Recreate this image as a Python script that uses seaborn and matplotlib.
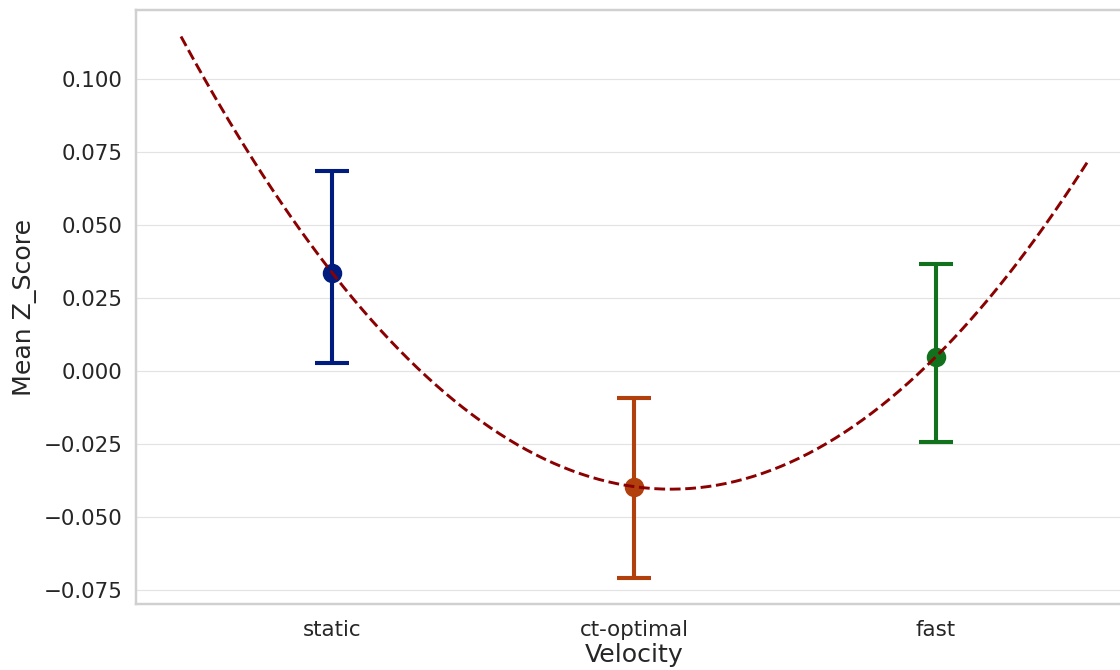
import numpy as np
import pandas as pd
import matplotlib
matplotlib.use('Agg')
import matplotlib.pyplot as plt
import seaborn as sns

velocity = ['static', 'ct-optimal', 'fast']
mean_z = [0.0337, -0.0396, 0.0049]
ci_low = [0.0028, -0.0708, -0.0244]
ci_high = [0.0683, -0.0094, 0.0366]
colors = ['#001c7f', '#b1400d', '#12711c']

sns.set_theme(style='whitegrid', context='notebook',
              rc={'grid.color': '#e3e3e3', 'grid.linewidth': 0.6,
                  'axes.edgecolor': '#d0d0d0', 'xtick.major.pad': 2.0,
                  'ytick.major.pad': 1.0})

df = pd.DataFrame({'Velocity': velocity, 'Mean Z_Score': mean_z})

fig = plt.figure(figsize=(8, 670 / 140), dpi=140)
ax = fig.add_axes([136 / 1120, 1 - 604 / 670, (1132 - 136) / 1120, 594 / 670])

sns.pointplot(data=df, x='Velocity', y='Mean Z_Score', hue='Velocity',
              palette=colors, errorbar=None, markersize=8, linestyle='none',
              legend=False, ax=ax)

# error bars from the interval bounds
for i, v in enumerate(velocity):
    ax.errorbar(i, mean_z[i],
                yerr=[[mean_z[i] - ci_low[i]], [ci_high[i] - mean_z[i]]],
                fmt='none', ecolor=colors[i], elinewidth=2.1,
                capsize=8.7, capthick=2.1, zorder=2)

# quadratic trend through the means
coef = np.polyfit(np.arange(len(velocity)), mean_z, 2)
xs = np.linspace(-0.5, 2.5, 300)
ax.plot(xs, np.polyval(coef, xs), '--', color='darkred', linewidth=1.5, zorder=4)

ax.set_xlim(-0.649, 2.649)
ax.set_ylim(-0.0798, 0.1236)
ax.set_yticks([-0.075, -0.050, -0.025, 0.0, 0.025, 0.050, 0.075, 0.100])
ax.set_xlabel('Velocity', fontsize=13, labelpad=2)
ax.set_ylabel('Mean Z_Score', fontsize=13, labelpad=3.5)
ax.xaxis.grid(False)

fig.savefig('out.png', dpi=140)
